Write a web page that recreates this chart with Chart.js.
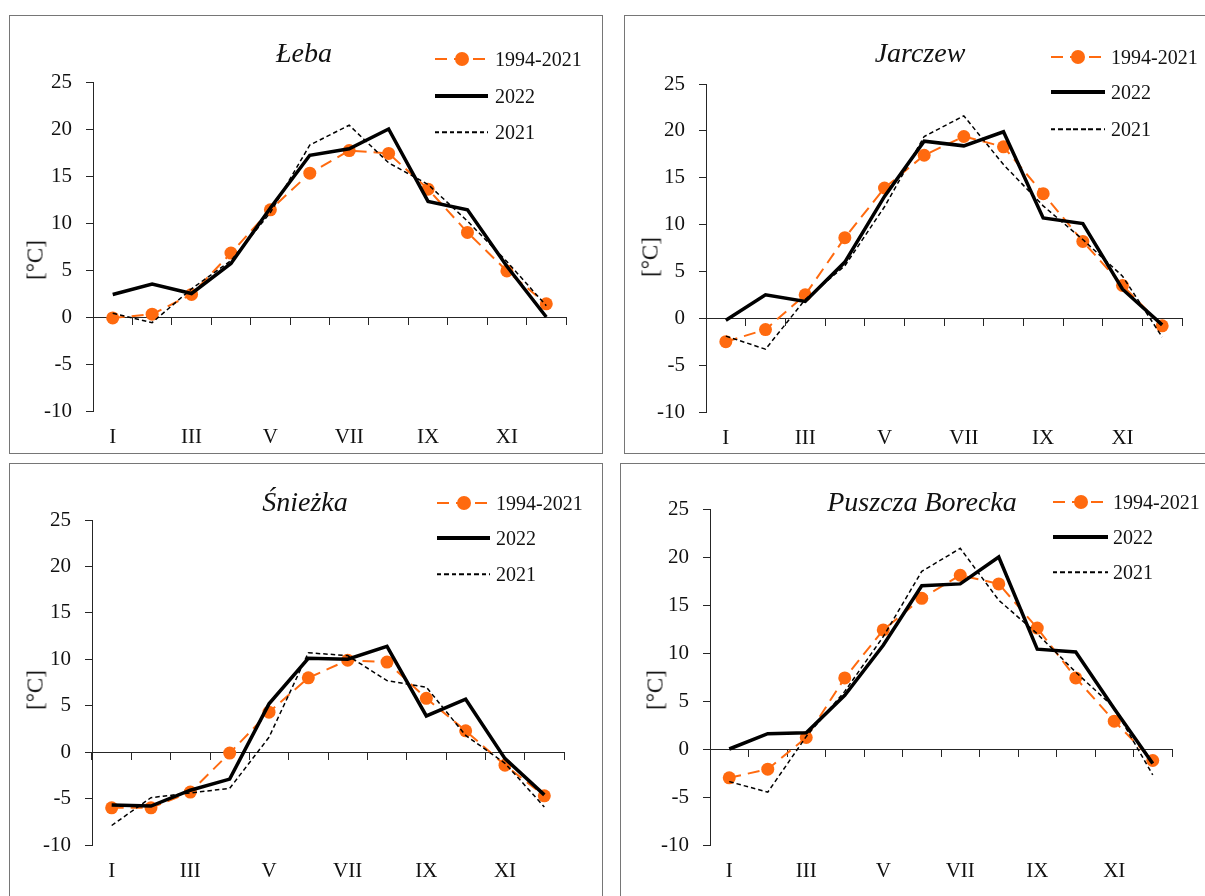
<!DOCTYPE html>
<html>
<head>
<meta charset="utf-8">
<script src="https://cdn.jsdelivr.net/npm/chart.js@4/dist/chart.umd.min.js"></script>
<style>
  html, body { margin: 0; padding: 0; background: #fff; }
  body { width: 1205px; height: 896px; overflow: hidden; position: relative;
         font-family: "Liberation Serif", "Times New Roman", serif; color: #111; }
  .panel { position: absolute; border: 1px solid #767676; box-sizing: border-box; background: #fff; }
  canvas { position: absolute; }
  .title { position: absolute; font-style: italic; font-size: 28px; line-height: 28px;
           transform: translate(-50%, -50%); white-space: nowrap; }
  .unit { position: absolute; font-size: 23px; line-height: 23px; white-space: nowrap;
          transform: translate(-50%, -50%) rotate(-90deg); }
  .leg-text { position: absolute; font-size: 20px; line-height: 20px; transform: translateY(-50%); white-space: nowrap; }
  .leg-line { position: absolute; transform: translateY(-50%); }
</style>
</head>
<body>
<script>
// miesiące (oś X)
const months = ["I", "II", "III", "IV", "V", "VI", "VII", "VIII", "IX", "X", "XI", "XII"];
const seriesNames = ["1994-2021", "2022", "2021"];
const yMin = -10;
const yMax = 25;
const yStep = 5;

// Łeba
const lebaMean = [-0.1, 0.3, 2.4, 6.8, 11.4, 15.3, 17.7, 17.4, 13.6, 9.0, 4.9, 1.4];
const leba2022 = [2.4, 3.5, 2.5, 5.7, 11.6, 17.2, 17.9, 20.0, 12.3, 11.4, 5.4, 0.0];
const leba2021 = [0.4, -0.6, 3.0, 6.0, 11.1, 18.3, 20.4, 16.4, 14.1, 10.2, 5.9, 1.2];

// Jarczew
const jarczewMean = [-2.5, -1.2, 2.5, 8.6, 13.9, 17.4, 19.4, 18.3, 13.3, 8.2, 3.5, -0.8];
const jarczew2022 = [-0.2, 2.5, 1.8, 6.0, 13.0, 18.9, 18.4, 19.9, 10.7, 10.1, 3.1, -0.7];
const jarczew2021 = [-1.9, -3.3, 2.0, 5.6, 11.9, 19.4, 21.6, 16.4, 12.0, 8.4, 4.5, -2.0];

// Śnieżka
const sniezkaMean = [-6.0, -6.0, -4.3, -0.1, 4.3, 8.0, 9.9, 9.7, 5.8, 2.3, -1.4, -4.7];
const sniezka2022 = [-5.7, -5.8, -4.1, -2.9, 5.2, 10.1, 10.0, 11.4, 3.9, 5.7, -0.7, -4.6];
const sniezka2021 = [-7.9, -4.9, -4.4, -3.9, 1.6, 10.7, 10.4, 7.7, 7.0, 1.8, -1.2, -5.9];

// Puszcza Borecka
const boreckaMean = [-3.0, -2.1, 1.2, 7.4, 12.4, 15.7, 18.1, 17.2, 12.6, 7.4, 2.9, -1.2];
const borecka2022 = [0.0, 1.6, 1.7, 5.6, 10.8, 17.0, 17.2, 20.0, 10.4, 10.1, 4.2, -1.5];
const borecka2021 = [-3.4, -4.5, 1.3, 6.0, 11.7, 18.5, 20.9, 15.5, 12.0, 8.0, 4.3, -2.7];

const ORANGE = "#FF6A0F";
const AXIS = "#262626";
const FONT = "'Liberation Serif', 'Times New Roman', serif";

// układ paneli (w pikselach strony)
const panels = [
  { name: "Łeba", mean: lebaMean, y2022: leba2022, y2021: leba2021,
    box: { x: 9, y: 15, w: 594, h: 439 }, area: { l: 93, t: 82, r: 566, b: 411 },
    title: [304, 53], unit: [35, 260], legend: { x: 435, w: 53, tx: 495, rows: [59, 96, 132] } },
  { name: "Jarczew", mean: jarczewMean, y2022: jarczew2022, y2021: jarczew2021,
    box: { x: 624, y: 15, w: 600, h: 439 }, area: { l: 706, t: 84, r: 1182, b: 412 },
    title: [920, 53], unit: [650, 257], legend: { x: 1051, w: 54, tx: 1111, rows: [57, 92, 129] } },
  { name: "Śnieżka", mean: sniezkaMean, y2022: sniezka2022, y2021: sniezka2021,
    box: { x: 9, y: 463, w: 594, h: 460 }, area: { l: 92, t: 520, r: 564, b: 845 },
    title: [305, 502], unit: [35, 690], legend: { x: 437, w: 53, tx: 496, rows: [503, 538, 574] } },
  { name: "Puszcza Borecka", mean: boreckaMean, y2022: borecka2022, y2021: borecka2021,
    box: { x: 620, y: 463, w: 600, h: 460 }, area: { l: 710, t: 509, r: 1172, b: 845 },
    title: [922, 502], unit: [655, 690], legend: { x: 1053, w: 55, tx: 1113, rows: [502, 537, 572] } }
];

function addDiv(cls, html, x, y) {
  const d = document.createElement("div");
  d.className = cls;
  d.innerHTML = html;
  d.style.left = x + "px";
  d.style.top = y + "px";
  document.body.appendChild(d);
  return d;
}

function legendSample(kind, x, y, w) {
  const d = document.createElement("div");
  d.className = "leg-line";
  d.style.left = x + "px";
  d.style.top = y + "px";
  d.style.width = w + "px";
  if (kind === 0) {
    d.style.height = "14px";
    d.innerHTML =
      '<div style="position:absolute;left:0;right:0;top:6px;height:2px;' +
      'background:repeating-linear-gradient(90deg,' + ORANGE + ' 0 12px,transparent 12px 19px)"></div>' +
      '<div style="position:absolute;left:' + (w / 2 - 7) + 'px;top:0;width:14px;height:14px;border-radius:50%;background:' + ORANGE + '"></div>';
  } else if (kind === 1) {
    d.style.height = "4px";
    d.style.background = "#000";
  } else {
    d.style.height = "1.5px";
    d.style.background = "repeating-linear-gradient(90deg,#000 0 4.5px,transparent 4.5px 7.5px)";
  }
  document.body.appendChild(d);
}

panels.forEach(p => {
  const panel = document.createElement("div");
  panel.className = "panel";
  panel.style.left = p.box.x + "px";
  panel.style.top = p.box.y + "px";
  panel.style.width = p.box.w + "px";
  panel.style.height = p.box.h + "px";
  document.body.appendChild(panel);

  const canvas = document.createElement("canvas");
  canvas.width = p.box.w;
  canvas.height = p.box.h;
  canvas.style.left = p.box.x + "px";
  canvas.style.top = p.box.y + "px";
  document.body.appendChild(canvas);

  const yAxisWidth = p.area.l - p.box.x;
  const xAxisHeight = p.box.y + p.box.h - p.area.b;

  new Chart(canvas.getContext("2d"), {
    type: "line",
    data: {
      labels: months,
      datasets: [
        {
          label: seriesNames[0],
          data: p.mean,
          borderColor: ORANGE,
          backgroundColor: ORANGE,
          borderWidth: 2,
          borderDash: [12, 7],
          pointRadius: 6.5,
          pointBorderWidth: 0,
          pointBackgroundColor: ORANGE,
          tension: 0,
          order: 3
        },
        {
          label: seriesNames[1],
          data: p.y2022,
          borderColor: "#000",
          borderWidth: 3.5,
          pointRadius: 0,
          tension: 0,
          order: 2
        },
        {
          label: seriesNames[2],
          data: p.y2021,
          borderColor: "#000",
          borderWidth: 1.5,
          borderDash: [4.5, 3],
          pointRadius: 0,
          tension: 0,
          order: 1
        }
      ]
    },
    options: {
      responsive: false,
      animation: false,
      layout: {
        padding: { left: 0, top: p.area.t - p.box.y, right: p.box.x + p.box.w - p.area.r, bottom: 0 }
      },
      plugins: {
        legend: { display: false },
        tooltip: { enabled: false }
      },
      scales: {
        x: {
          type: "category",
          position: "bottom",
          offset: true,
          grid: { display: false, drawTicks: false },
          border: { display: false },
          ticks: {
            autoSkip: false,
            maxRotation: 0,
            padding: 14,
            color: "#111",
            font: { family: FONT, size: 21 },
            callback: (v, i) => (i % 2 === 0 ? months[i] : "")
          },
          afterFit: s => { s.height = xAxisHeight; }
        },
        x0: {
          type: "category",
          position: { y: 0 },
          offset: true,
          grid: { offset: true, drawOnChartArea: false, drawTicks: true, tickLength: 7, color: AXIS, lineWidth: 1 },
          border: { display: true, color: AXIS, width: 1 },
          ticks: { display: false },
          afterFit: s => { s.height = 0; }
        },
        y: {
          min: yMin,
          max: yMax,
          ticks: {
            stepSize: yStep,
            padding: 14,
            color: "#111",
            font: { family: FONT, size: 21 }
          },
          grid: { drawOnChartArea: false, drawTicks: true, tickLength: 7, color: AXIS, lineWidth: 1 },
          border: { display: true, color: AXIS, width: 1 },
          afterFit: s => { s.width = yAxisWidth; }
        }
      }
    }
  });

  addDiv("title", p.name, p.title[0], p.title[1]);
  addDiv("unit", "[°C]", p.unit[0], p.unit[1]);
  seriesNames.forEach((n, i) => {
    legendSample(i, p.legend.x, p.legend.rows[i], p.legend.w);
    addDiv("leg-text", n, p.legend.tx, p.legend.rows[i]);
  });
});
</script>
</body>
</html>
